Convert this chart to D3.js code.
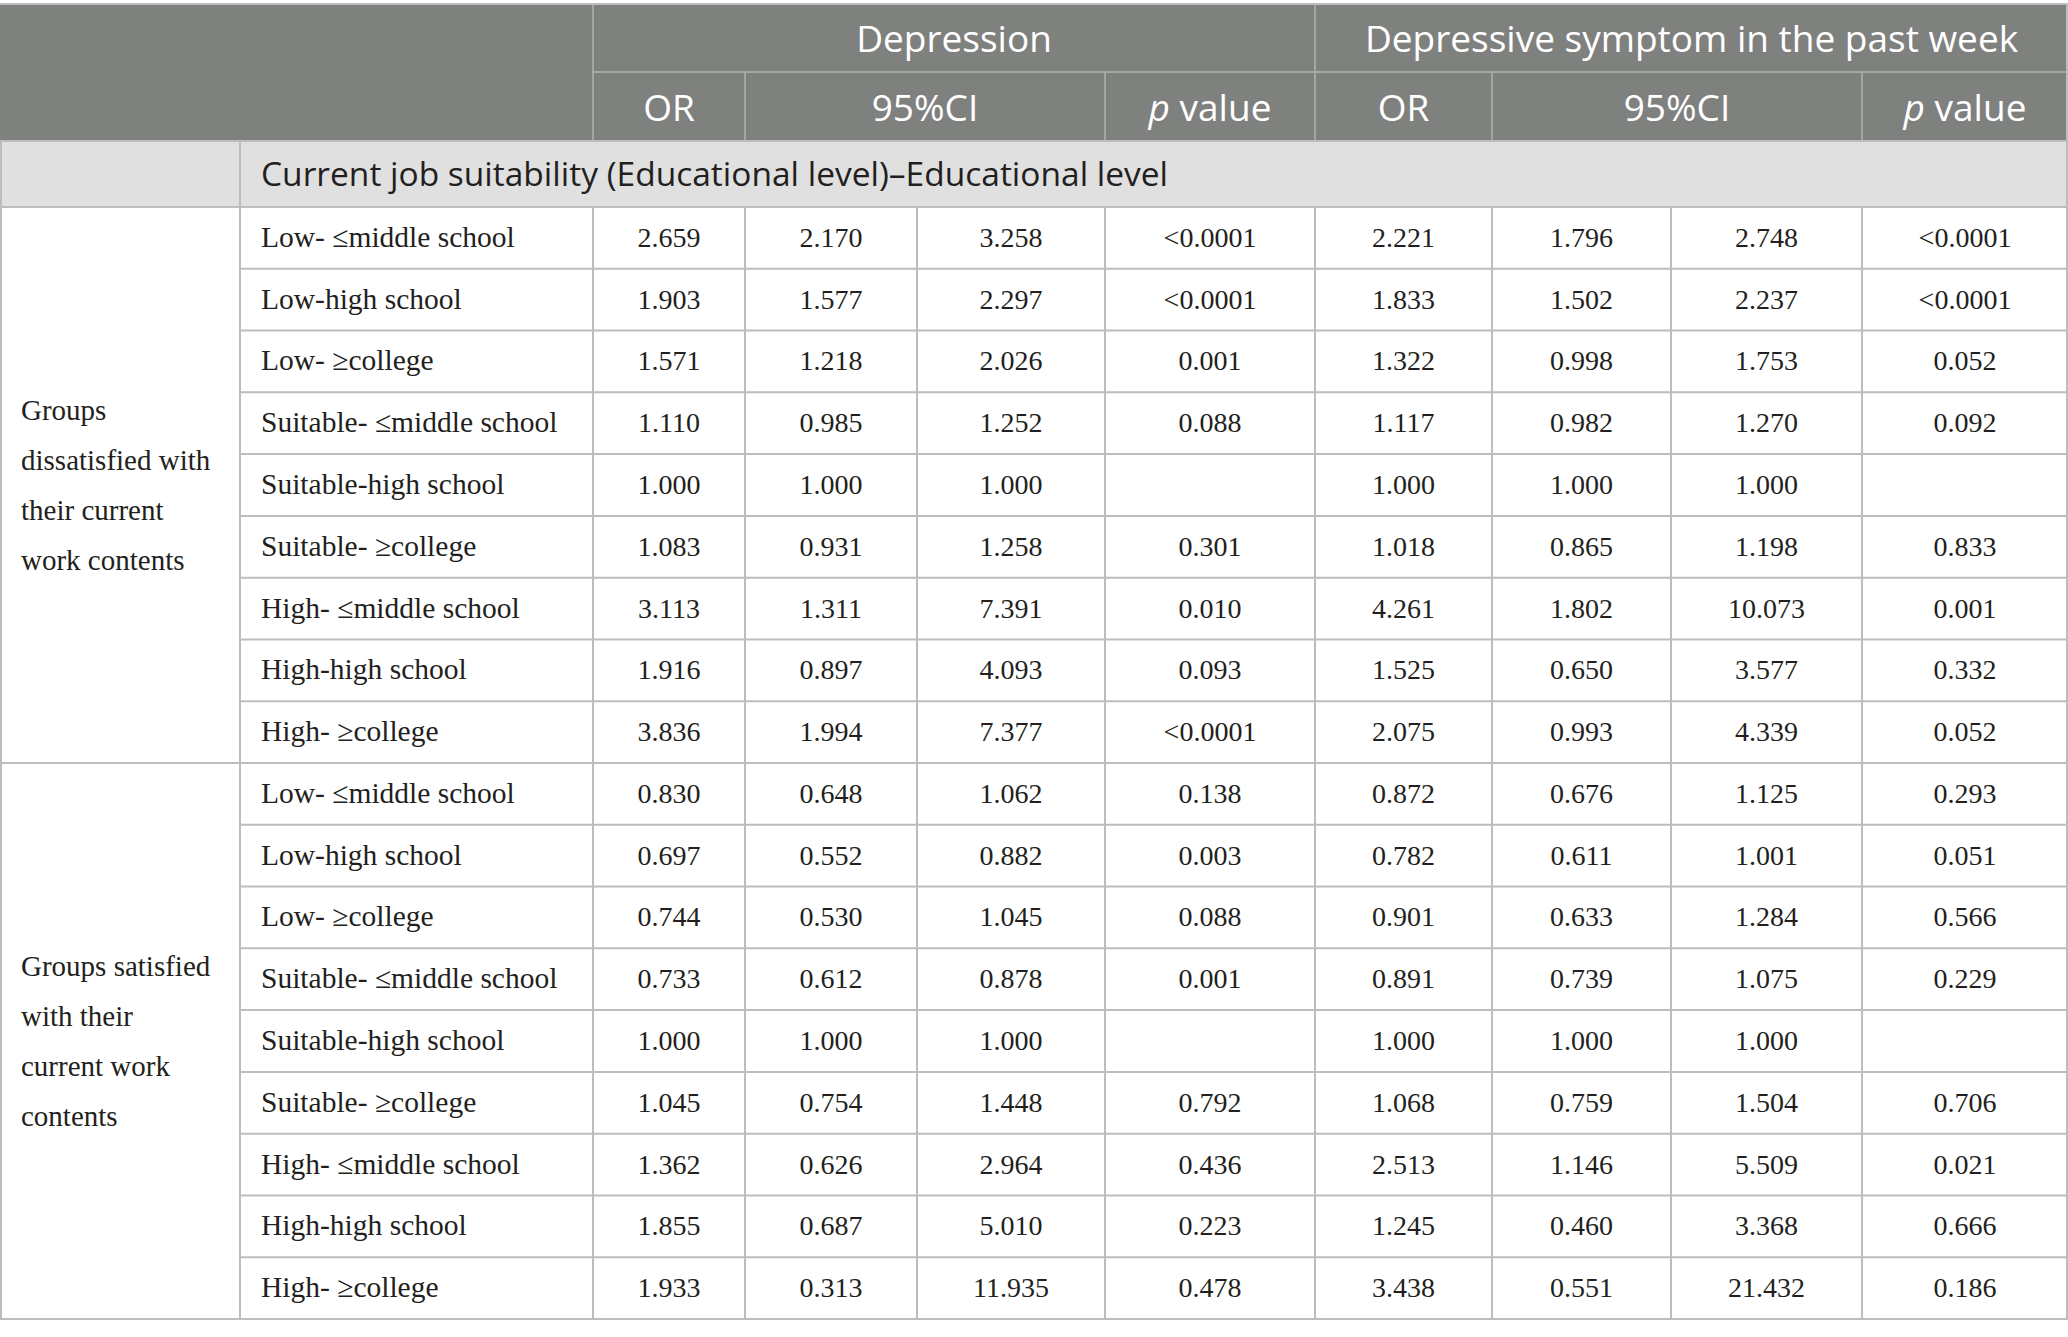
<!DOCTYPE html>
<html>
<head>
<meta charset="utf-8">
<script src="https://cdn.jsdelivr.net/npm/d3@7"></script>
<style>
  html, body { margin: 0; padding: 0; background: #fff; }
  svg { display: block; }
</style>
</head>
<body>
<svg id="tbl"></svg>
<script>
// ---- table content ----
const outcomes = ["Depression", "Depressive symptom in the past week"];
const subHeads = ["OR", "95%CI", "p value"];
const sectionTitle = "Current job suitability (Educational level)\u2013Educational level";

const groupLines = [
  ["Groups", "dissatisfied with", "their current", "work contents"],
  ["Groups satisfied", "with their", "current work", "contents"]
];

const rowLabels = [
  "Low- \u2264middle school", "Low-high school", "Low- \u2265college",
  "Suitable- \u2264middle school", "Suitable-high school", "Suitable- \u2265college",
  "High- \u2264middle school", "High-high school", "High- \u2265college",
  "Low- \u2264middle school", "Low-high school", "Low- \u2265college",
  "Suitable- \u2264middle school", "Suitable-high school", "Suitable- \u2265college",
  "High- \u2264middle school", "High-high school", "High- \u2265college"
];

const depOR   = ["2.659","1.903","1.571","1.110","1.000","1.083","3.113","1.916","3.836",
                 "0.830","0.697","0.744","0.733","1.000","1.045","1.362","1.855","1.933"];
const depLow  = ["2.170","1.577","1.218","0.985","1.000","0.931","1.311","0.897","1.994",
                 "0.648","0.552","0.530","0.612","1.000","0.754","0.626","0.687","0.313"];
const depHigh = ["3.258","2.297","2.026","1.252","1.000","1.258","7.391","4.093","7.377",
                 "1.062","0.882","1.045","0.878","1.000","1.448","2.964","5.010","11.935"];
const depP    = ["<0.0001","<0.0001","0.001","0.088","","0.301","0.010","0.093","<0.0001",
                 "0.138","0.003","0.088","0.001","","0.792","0.436","0.223","0.478"];

const symOR   = ["2.221","1.833","1.322","1.117","1.000","1.018","4.261","1.525","2.075",
                 "0.872","0.782","0.901","0.891","1.000","1.068","2.513","1.245","3.438"];
const symLow  = ["1.796","1.502","0.998","0.982","1.000","0.865","1.802","0.650","0.993",
                 "0.676","0.611","0.633","0.739","1.000","0.759","1.146","0.460","0.551"];
const symHigh = ["2.748","2.237","1.753","1.270","1.000","1.198","10.073","3.577","4.339",
                 "1.125","1.001","1.284","1.075","1.000","1.504","5.509","3.368","21.432"];
const symP    = ["<0.0001","<0.0001","0.052","0.092","","0.833","0.001","0.332","0.052",
                 "0.293","0.051","0.566","0.229","","0.706","0.021","0.666","0.186"];

const valueCols = [depOR, depLow, depHigh, depP, symOR, symLow, symHigh, symP];

// ---- layout ----
const W = 2068, H = 1337;
const colEdges = [0, 240, 593, 745, 917, 1105, 1315, 1492, 1671, 1862, 2068];
const x = d3.scaleOrdinal(d3.range(colEdges.length), colEdges);
const xMid = (a, b) => (x(a) + x(b)) / 2;

const yTop = 4, yH1 = 72, yH2 = 141, ySec = 207, yBottom = 1319;
const y = d3.scaleBand().domain(d3.range(rowLabels.length)).range([ySec, yBottom]);

const headFill = "#7f817f", headLine = "#a4a6a4", secFill = "#e1e0e1";
const gridCol = "#bdbdbd", textCol = "#231f20";
const sans = "'Open Sans', 'Noto Sans', sans-serif";
const serif = "'Liberation Serif', 'DejaVu Serif', serif";

const svg = d3.select("#tbl").attr("width", W).attr("height", H).attr("viewBox", `0 0 ${W} ${H}`);

// backgrounds
svg.append("rect").attr("x", 0).attr("y", yTop).attr("width", W).attr("height", yH2 - yTop).attr("fill", headFill);
svg.append("rect").attr("x", 0).attr("y", yH2).attr("width", W).attr("height", ySec - yH2).attr("fill", secFill);

// header lines
const hl = svg.append("g").attr("stroke", headLine).attr("stroke-width", 2);
hl.append("line").attr("x1", x(2)).attr("x2", W).attr("y1", yH1).attr("y2", yH1);
[2, 6].forEach(c => hl.append("line").attr("x1", x(c)).attr("x2", x(c)).attr("y1", yTop).attr("y2", yH2));
[3, 5, 7, 9].forEach(c => hl.append("line").attr("x1", x(c)).attr("x2", x(c)).attr("y1", yH1).attr("y2", yH2));

// header text
const ht = svg.append("g").attr("fill", "#fff").attr("font-family", sans).attr("font-size", 37).attr("text-anchor", "middle");
ht.selectAll("text.outcome").data(outcomes).join("text").attr("class", "outcome")
  .attr("x", (d, i) => i === 0 ? xMid(2, 6) : xMid(6, 10))
  .attr("y", (yH1 + yTop) / 2 + 14)
  .text(d => d);

const subSpans = [[2, 3], [3, 5], [5, 6], [6, 7], [7, 9], [9, 10]];
ht.selectAll("text.sub").data(subSpans).join("text").attr("class", "sub")
  .attr("x", d => xMid(d[0], d[1]))
  .attr("y", (yH1 + yH2) / 2 + 14)
  .each(function (d, i) {
    const label = subHeads[i % 3];
    const t = d3.select(this);
    if (label.startsWith("p ")) {
      t.append("tspan").attr("font-style", "italic").text("p");
      t.append("tspan").text(label.slice(1));
    } else {
      t.text(label);
    }
  });

// section title
svg.append("text").attr("x", x(1) + 21).attr("y", (yH2 + ySec) / 2 + 12)
  .attr("font-family", sans).attr("font-size", 33.5).attr("fill", textCol)
  .text(sectionTitle);

// grid lines
const g = svg.append("g").attr("stroke", gridCol).attr("stroke-width", 2);
g.append("line").attr("x1", 0).attr("x2", W).attr("y1", yTop).attr("y2", yTop);
g.append("line").attr("x1", 0).attr("x2", W).attr("y1", yH2).attr("y2", yH2);
g.append("line").attr("x1", 0).attr("x2", W).attr("y1", ySec).attr("y2", ySec);
g.append("line").attr("x1", x(1)).attr("x2", x(1)).attr("y1", yH2).attr("y2", yBottom);
g.append("line").attr("x1", 1).attr("x2", 1).attr("y1", yH2).attr("y2", yBottom);
g.append("line").attr("x1", W - 1).attr("x2", W - 1).attr("y1", yTop).attr("y2", yBottom);
g.selectAll("line.row").data(d3.range(1, rowLabels.length + 1)).join("line").attr("class", "row")
  .attr("x1", i => (i % 9 === 0) ? 0 : x(1)).attr("x2", W)
  .attr("y1", i => y(i - 1) + y.bandwidth()).attr("y2", i => y(i - 1) + y.bandwidth());
g.selectAll("line.col").data(d3.range(2, 10)).join("line").attr("class", "col")
  .attr("x1", c => x(c)).attr("x2", c => x(c)).attr("y1", ySec).attr("y2", yBottom);

// group labels
const gt = svg.append("g").attr("font-family", serif).attr("font-size", 29).attr("fill", textCol);
groupLines.forEach((lines, gi) => {
  const cy = (y(gi * 9) + y(gi * 9 + 8) + y.bandwidth()) / 2;
  gt.append("text").attr("x", 21).attr("y", cy - 75 + 10)
    .selectAll("tspan").data(lines).join("tspan")
    .attr("x", 21).attr("dy", (d, i) => i === 0 ? 0 : 50).text(d => d);
});

// row labels
svg.append("g").attr("font-family", serif).attr("font-size", 29.5).attr("fill", textCol)
  .selectAll("text").data(rowLabels).join("text")
  .attr("x", x(1) + 21).attr("y", (d, i) => y(i) + y.bandwidth() / 2 + 9).text(d => d);

// values
const vg = svg.append("g").attr("font-family", serif).attr("font-size", 28).attr("fill", textCol).attr("text-anchor", "middle");
valueCols.forEach((vals, ci) => {
  vg.append("g").selectAll("text").data(vals).join("text")
    .attr("x", xMid(ci + 2, ci + 3))
    .attr("y", (d, i) => y(i) + y.bandwidth() / 2 + 9)
    .text(d => d);
});
</script>
</body>
</html>
